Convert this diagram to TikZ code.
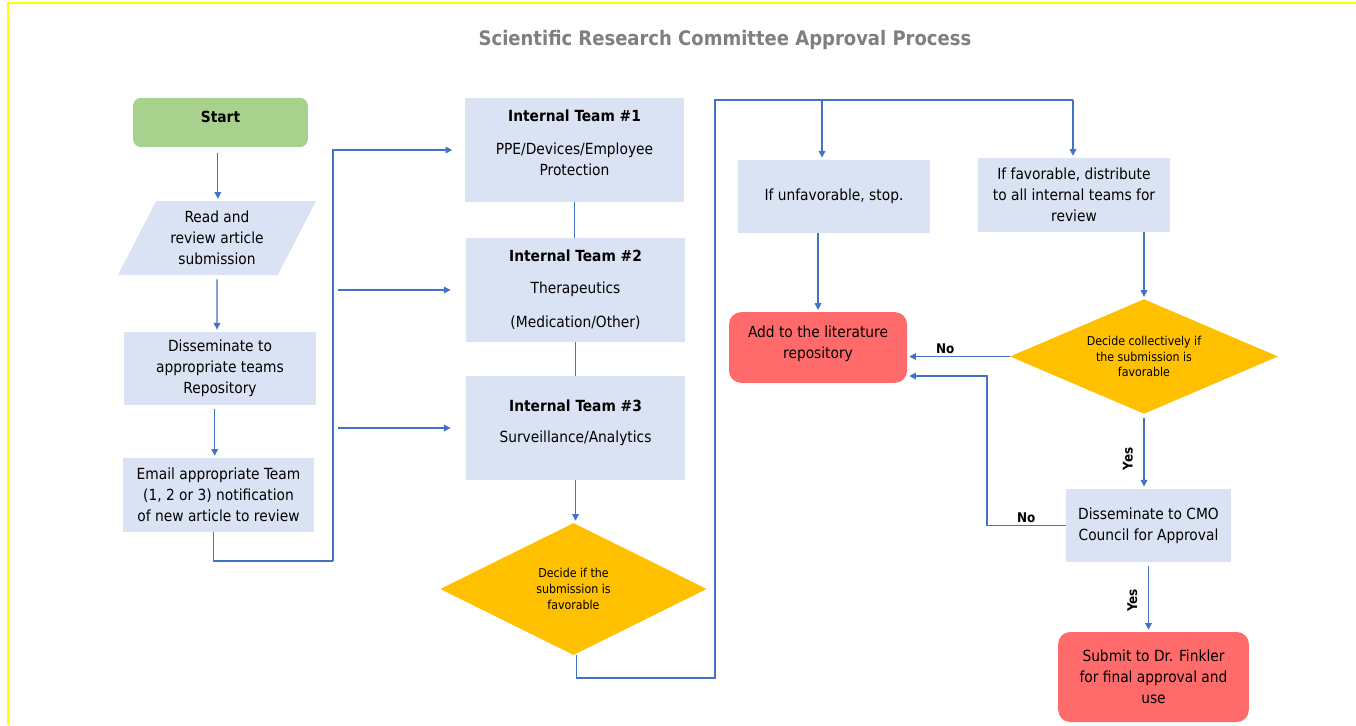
\documentclass[tikz,border=0pt]{standalone}
\usepackage{fontspec}
\setmainfont{DejaVu Sans Condensed}
\usepackage{xcolor}
\usepackage{tikz}
\usetikzlibrary{shapes.geometric,arrows.meta,positioning}

\definecolor{flowblue}{HTML}{4472C4}
\definecolor{boxblue}{HTML}{DAE3F3}
\definecolor{startgreen}{HTML}{A9D18E}
\definecolor{stopred}{HTML}{FF6B6B}
\definecolor{decidegold}{HTML}{FFC000}
\definecolor{titlegray}{HTML}{7F7F7F}
\definecolor{edgeyellow}{HTML}{FFFF00}

\begin{document}
\begin{tikzpicture}[x=0.75pt, y=-0.75pt, >={Triangle[width=5pt,length=5pt]},
    font=\fontsize{11.5}{15.75}\selectfont,
    box/.style={rectangle, fill=boxblue, align=center, inner sep=2pt},
    teambox/.style={box, minimum width=164pt, minimum height=78pt},
    startbox/.style={rectangle, rounded corners=6pt, fill=startgreen, font=\fontsize{11.5}{15.75}\bfseries},
    readbox/.style={trapezium, trapezium left angle=62, trapezium right angle=118,
        trapezium stretches=true, fill=boxblue, align=center, inner sep=1pt},
    stopbox/.style={rectangle, rounded corners=9pt, fill=stopred, align=center},
    decision/.style={diamond, aspect=2, fill=decidegold, align=center, inner sep=0pt,
        font=\fontsize{9.2}{11.8}\selectfont},
    flow/.style={->, draw=flowblue, line width=0.9pt, shorten >=1.5pt},
    link/.style={draw=flowblue, line width=0.9pt},
    tag/.style={font=\fontsize{10}{11}\bfseries, inner sep=2pt},
    yestag/.style={tag, rotate=90, above, inner ysep=8pt}]
    \useasboundingbox (0,0) rectangle (1356,725);
    \draw [edgeyellow, line width=1.5pt] (8,725) -- (8,3) -- (1356,3);

    \node [font=\fontsize{15}{17}\bfseries, text=titlegray] (title) at (725,40) {Scientific Research Committee Approval Process};

    % left column
    \node [startbox, minimum width=131pt, minimum height=37pt, text depth=8pt] (start) at (220.5,122.5) {Start};
    \node [readbox, minimum width=148.5pt, minimum height=55.5pt] (read) at (217,238) {Read and\\review article\\submission};
    \node [box, minimum width=144pt, minimum height=55pt] (dissem) at (220,368.5) {Disseminate to\\appropriate teams\\Repository};
    \node [box, minimum width=143pt, minimum height=55.5pt] (email) at (218.5,495) {Email appropriate Team\\(1, 2 or 3) notification\\of new article to review};

    % internal teams
    \node [teambox, text depth=11pt] (team1) at (574.5,150) {\textbf{Internal Team \#1}\\[9pt]PPE/Devices/Employee\\Protection};
    \node [teambox] (team2) at (575.5,290) {\textbf{Internal Team \#2}\\[8pt]Therapeutics\\[10pt](Medication/Other)};
    \node [teambox, text depth=10pt] (team3) at (575.5,428) {\textbf{Internal Team \#3}\\[8pt]Surveillance/Analytics};
    \node [decision, minimum width=200pt, minimum height=99pt] (dec1) at (573.5,589) {Decide if the\\submission is\\favorable};

    % review outcome
    \node [box, minimum width=144pt, minimum height=55pt] (unfav) at (834,196.5) {If unfavorable, stop.};
    \node [box, minimum width=144pt, minimum height=55.5pt] (fav) at (1074,195) {If favorable, distribute\\to all internal teams for\\review};
    \node [decision, minimum width=201pt, minimum height=86pt] (dec2) at (1144,356.5) {Decide collectively if\\the submission is\\favorable};
    \node [stopbox, minimum width=133.5pt, minimum height=53pt, text depth=8.5pt] (repo) at (818,347.5) {Add to the literature\\repository};
    \node [box, minimum width=124pt, minimum height=55pt] (cmo) at (1148.5,525.5) {Disseminate to CMO\\Council for Approval};
    \node [stopbox, minimum width=143pt, minimum height=67.5pt] (finkler) at (1153.5,677) {Submit to Dr. Finkler\\for final approval and\\use};

    \coordinate (feed) at (333,561);
    \coordinate (loopfoot) at (715,678);
    \coordinate (loophead) at (715,100);
    \coordinate (loopend) at (1073,100);
    \coordinate (nobend) at (987,376);

    \draw [flow, shorten <=4.5pt] ([xshift=-2pt]start.south) -- ([xshift=-2pt]start.south |- read.north);
    \draw [flow, shorten <=3pt] (read) -- (read |- dissem.north);
    \draw [flow, shorten <=3pt] ([xshift=-4pt]dissem.south) -- ([xshift=-4pt]dissem.south |- email.north);
    \draw [link] ([xshift=-4pt]email.south) |- (feed);
    \draw [flow] (feed) |- ([xshift=-8pt]team1.west);
    \draw [flow] ([xshift=4pt]feed |- team2.west) -- ([xshift=-10pt]team2.west);
    \draw [flow] ([xshift=4pt]feed |- team3.west) -- ([xshift=-10pt]team3.west);

    \draw [link] (team1.south) -- (team1.south |- team2.north);
    \draw [link] (team2.south) -- (team2.south |- team3.north);
    \draw [flow] (team3.south) -- (team3.south |- dec1.north);

    \draw [link] ([xshift=2pt]dec1.south) |- (loopfoot) -- (loophead) -- (loopend);
    \draw [flow] ([xshift=-9pt]unfav.north |- loophead) -- ([xshift=-9pt]unfav.north);
    \draw [flow] (loopend) -- (loopend |- fav.north);
    \draw [flow] (unfav.south -| repo.north) -- (repo.north);
    \draw [flow] (fav.south -| dec2.north) -- (dec2.north);

    \draw [flow] (dec2.west) -- node [tag, above, pos=0.63] {No} (dec2.west -| repo.east);
    \draw [flow, shorten <=3pt] (dec2.south) -- node [yestag, pos=0.6] {Yes} (dec2.south |- cmo.north);
    \draw [flow] (cmo.west) -| node [tag, above, pos=0.25] {No} (nobend) -- (nobend -| repo.east);
    \draw [flow, shorten <=3pt] (cmo.south) -- node [yestag, pos=0.55] {Yes} (cmo.south |- finkler.north);
\end{tikzpicture}
\end{document}
